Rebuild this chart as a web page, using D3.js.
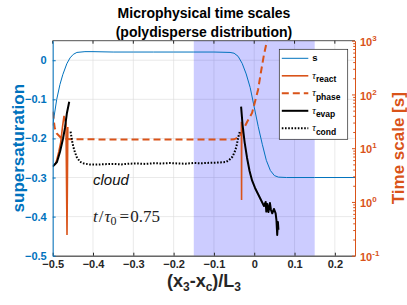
<!DOCTYPE html>
<html>
<head>
<meta charset="utf-8">
<script src="https://cdn.jsdelivr.net/npm/d3@7"></script>
<style>
  body { margin: 0; background: #fff; }
  svg { font-family: "Liberation Sans", Arial, sans-serif; }
</style>
</head>
<body>
<div class="canvas"></div>
<script>
// ---- data ----
const xTicks = [-0.5, -0.4, -0.3, -0.2, -0.1, 0, 0.1, 0.2];
const sTicks = [0, -0.1, -0.2, -0.3, -0.4, -0.5];
const tauTicks = [0.1, 1, 10, 100, 1000];
const tauExp = ['-1', '0', '1', '2', '3'];
const shadeRange = [-0.15, 0.15];

// supersaturation s (left axis)
const sX = [-0.5, -0.49, -0.482, -0.475, -0.465, -0.457, -0.449, -0.44, -0.42, -0.4, -0.35, -0.3, -0.25,
  -0.2, -0.15, -0.1, -0.06, -0.05, -0.04, -0.03, -0.02, -0.01, 0, 0.01, 0.02, 0.03, 0.04, 0.05, 0.06, 0.08, 0.15, 0.25];
const sVal = [-0.167, -0.10, -0.062, -0.037, -0.009, 0.006, 0.015, 0.020, 0.022, 0.022, 0.021, 0.021, 0.021,
  0.021, 0.021, 0.021, 0.020, 0.018, 0.010, -0.008, -0.035, -0.070, -0.120, -0.170, -0.215, -0.256, -0.282, -0.295, -0.299, -0.300, -0.300, -0.300];

// tau_react [s] (right axis), null = no value
const reactX = [-0.494, -0.49, -0.485, -0.48, -0.476, -0.472, -0.467, -0.4645, -0.4625, -0.45, -0.0318, -0.0314, -0.031];
const reactVal = [4.86, 6.03, 8.49, 13.0, 23.8, 39.8, 28.2, 0.243, 24.8, null, 31.1, 1.09, 31.1];

// tau_phase [s]
const phaseX = [-0.5, -0.495, -0.49, -0.48, -0.47, -0.45, -0.4, -0.3, -0.2, -0.1, -0.05, -0.0375, -0.0277,
  -0.0178, -0.0054, 0.0094, 0.0167, 0.024, 0.0316, 0.036];
const phaseVal = [47.8, 23.8, 18.9, 15.8, 14.8, 14.6, 14.6, 14.5, 14.5, 14.5, 14.6, 16.1, 21.8,
  30.7, 45.2, 121, 262, 542, 1000, 1585];

// tau_evap [s]
const evapX = [-0.5, -0.4894, -0.482, -0.4746, -0.4696, -0.4647, -0.459, -0.45,
  -0.0326, -0.0289, -0.0239, -0.0178, -0.0116, -0.0054, 0.002, 0.0094, 0.0168, 0.0217, 0.0242, 0.0284,
  0.0299, 0.0323, 0.0353, 0.039, 0.0415, 0.0447, 0.0489, 0.0531, 0.0551, 0.057, 0.0588, 0.06];
const evapVal = [4.53, 5.53, 8.51, 14.8, 23.8, 45.2, 73.3, null,
  59.2, 27.0, 13.0, 6.58, 3.77, 2.51, 1.82, 1.41, 1.09, 0.916, 0.839, 1.0,
  0.661, 0.916, 0.650, 0.955, 0.708, 0.614, 0.741, 0.614, 0.461, 0.243, 0.424, 0.302];

// tau_cond [s]
const condX = [-0.4556, -0.4523, -0.449, -0.445, -0.4407, -0.4326, -0.4227, -0.4079, -0.39, -0.37, -0.35,
  -0.33, -0.31, -0.29, -0.27, -0.25, -0.23, -0.21, -0.19, -0.17, -0.15, -0.13, -0.11, -0.09,
  -0.0704, -0.0622, -0.054, -0.0486, -0.0442, -0.0393, -0.0358];
const condVal = [20.3, 14.2, 10.7, 8.49, 6.95, 5.61, 5.19, 4.98, 4.95, 5.05, 5.1,
  5.0, 5.15, 5.2, 5.1, 5.25, 5.2, 5.3, 5.2, 5.15, 5.3, 5.25, 5.35, 5.4,
  5.53, 6.03, 6.95, 8.49, 10.7, 16.4, 20.3];

// ---- layout ----
const W = 407, H = 305;
const m = { left: 52.7, right: 355, top: 40.7, bottom: 255.7 };
const blue = '#0072BD', orange = '#D95319', dark = '#262626';

const svg = d3.select('.canvas')
  .append('svg')
  .attr('width', W)
  .attr('height', H);

const x = d3.scaleLinear().domain([-0.5, 0.25]).range([m.left, m.right]);
const yL = d3.scaleLinear().domain([-0.5, 0.05]).range([m.bottom, m.top]);
const yR = d3.scaleLog().domain([0.1, 1000]).range([m.bottom, m.top]);

svg.append('clipPath').attr('id', 'clip')
  .append('rect')
  .attr('x', m.left).attr('y', m.top)
  .attr('width', m.right - m.left).attr('height', m.bottom - m.top);

// grid
const grid = svg.append('g').attr('stroke', '#dcdcdc').attr('stroke-width', 0.6);
grid.selectAll('.gx').data(xTicks).enter().append('line')
  .attr('x1', d => x(d)).attr('x2', d => x(d))
  .attr('y1', m.top).attr('y2', m.bottom);
grid.selectAll('.gy').data(sTicks).enter().append('line')
  .attr('x1', m.left).attr('x2', m.right)
  .attr('y1', d => yL(d)).attr('y2', d => yL(d));

// shaded interval
svg.append('rect')
  .attr('x', x(shadeRange[0])).attr('y', m.top)
  .attr('width', x(shadeRange[1]) - x(shadeRange[0]))
  .attr('height', m.bottom - m.top)
  .attr('fill', '#0000ff').attr('fill-opacity', 0.2);

const plot = svg.append('g').attr('clip-path', 'url(#clip)');

const zip = (xs, vs) => xs.map((d, i) => ({ x: d, v: vs[i] }));
const lineL = d3.line().x(d => x(d.x)).y(d => yL(d.v));
const lineR = d3.line().defined(d => d.v != null).x(d => x(d.x)).y(d => yR(d.v));

plot.append('path').datum(zip(sX, sVal))
  .attr('d', lineL).attr('fill', 'none').attr('stroke', blue).attr('stroke-width', 1);

plot.append('path').datum(zip(reactX, reactVal))
  .attr('d', lineR).attr('fill', 'none').attr('stroke', orange).attr('stroke-width', 1.6);

plot.append('path').datum(zip(phaseX, phaseVal))
  .attr('d', lineR).attr('fill', 'none').attr('stroke', orange).attr('stroke-width', 2)
  .attr('stroke-dasharray', '7,4');

plot.append('path').datum(zip(evapX, evapVal))
  .attr('d', lineR).attr('fill', 'none').attr('stroke', '#000').attr('stroke-width', 2)
  .attr('stroke-linejoin', 'round');

plot.append('path').datum(zip(condX, condVal))
  .attr('d', lineR).attr('fill', 'none').attr('stroke', '#000').attr('stroke-width', 2)
  .attr('stroke-dasharray', '1.6,1.6');

// axes
const xAxis = svg.append('g')
  .attr('transform', `translate(0,${m.bottom})`)
  .call(d3.axisBottom(x).tickValues(xTicks).tickSizeInner(-3).tickSizeOuter(0).tickPadding(5)
    .tickFormat(d => d === 0 ? '0' : d3.format('.1f')(d)));
xAxis.select('.domain').attr('stroke', dark);
xAxis.selectAll('line').attr('stroke', dark);
xAxis.selectAll('text').attr('fill', dark).attr('font-size', 11).attr('font-weight', 'bold');

// top border
svg.append('line')
  .attr('x1', m.left).attr('x2', m.right).attr('y1', m.top).attr('y2', m.top)
  .attr('stroke', dark).attr('stroke-width', 0.8);
svg.selectAll('.tt').data(xTicks).enter().append('line')
  .attr('x1', d => x(d)).attr('x2', d => x(d)).attr('y1', m.top).attr('y2', m.top + 3)
  .attr('stroke', dark);

const leftAxis = svg.append('g')
  .attr('transform', `translate(${m.left},0)`)
  .call(d3.axisLeft(yL).tickValues(sTicks).tickSizeInner(-3).tickSizeOuter(0).tickPadding(6)
    .tickFormat(d => d === 0 ? '0' : d3.format('.1f')(d)));
leftAxis.select('.domain').attr('stroke', blue);
leftAxis.selectAll('line').attr('stroke', blue);
leftAxis.selectAll('text').attr('fill', blue).attr('font-size', 11).attr('font-weight', 'bold');

const minor = [];
tauTicks.slice(0, -1).forEach(t => { for (let k = 2; k < 10; k++) minor.push(t * k); });

const rightMinor = svg.append('g')
  .attr('transform', `translate(${m.right},0)`)
  .call(d3.axisRight(yR).tickValues(minor).tickSizeInner(-1.8).tickSizeOuter(0).tickFormat(''));
rightMinor.select('.domain').remove();
rightMinor.selectAll('line').attr('stroke', orange);

const rightAxis = svg.append('g')
  .attr('transform', `translate(${m.right},0)`)
  .call(d3.axisRight(yR).tickValues(tauTicks).tickSizeInner(-3).tickSizeOuter(0).tickFormat(''));
rightAxis.select('.domain').attr('stroke', orange);
rightAxis.selectAll('line').attr('stroke', orange);
rightAxis.selectAll('.tick').append('text')
  .attr('x', 5).attr('dy', '0.42em')
  .attr('fill', orange).attr('font-size', 11).attr('font-weight', 'bold')
  .attr('text-anchor', 'start')
  .each(function(d, i) {
    const t = d3.select(this);
    t.append('tspan').text('10');
    t.append('tspan').attr('dy', -5).attr('font-size', 8).text(tauExp[i]);
  });

// titles and labels
svg.append('text').attr('x', 204).attr('y', 17.5).attr('text-anchor', 'middle')
  .attr('font-size', 14).attr('font-weight', 'bold').text('Microphysical time scales');
svg.append('text').attr('x', 204).attr('y', 36.5).attr('text-anchor', 'middle')
  .attr('font-size', 14).attr('font-weight', 'bold').text('(polydisperse distribution)');

svg.append('text')
  .attr('transform', `translate(23.5,${(m.top + m.bottom) / 2}) rotate(-90)`)
  .attr('text-anchor', 'middle').attr('fill', blue)
  .attr('font-size', 17).attr('font-weight', 'bold').text('supersaturation');

svg.append('text')
  .attr('transform', `translate(403.5,${(m.top + m.bottom) / 2}) rotate(-90)`)
  .attr('text-anchor', 'middle').attr('fill', orange)
  .attr('font-size', 17).attr('font-weight', 'bold').text('Time scale [s]');

const xl = svg.append('text').attr('x', 204).attr('y', 287).attr('text-anchor', 'middle')
  .attr('font-size', 18).attr('font-weight', 'bold').attr('fill', dark);
xl.append('tspan').text('(x');
xl.append('tspan').attr('font-size', 12).attr('dy', 4).text('3');
xl.append('tspan').attr('dy', -4).text('-x');
xl.append('tspan').attr('font-size', 12).attr('dy', 4).text('c');
xl.append('tspan').attr('dy', -4).text(')/L');
xl.append('tspan').attr('font-size', 12).attr('dy', 4).text('3');

svg.append('text').attr('x', 93).attr('y', 184.5)
  .attr('font-size', 15).attr('font-style', 'italic').attr('fill', '#111').text('cloud');

const tt = svg.append('text').attr('x', 93).attr('y', 222)
  .attr('font-family', '"Liberation Serif", "DejaVu Serif", serif')
  .attr('font-size', 17).attr('fill', '#222');
tt.append('tspan').attr('font-style', 'italic').text('t');
tt.append('tspan').attr('dx', 1).text('/');
tt.append('tspan').attr('dx', 1).attr('font-style', 'italic').text('τ');
tt.append('tspan').attr('font-size', 12).attr('dy', 3).text('0');
tt.append('tspan').attr('dy', -3).attr('dx', 3).text('=');
tt.append('tspan').attr('dx', 1).text('0.75');

// legend
const legendItems = [
  { name: 's', sub: '', color: blue, width: 1, dash: null },
  { name: 'τ', sub: 'react', color: orange, width: 1.6, dash: null },
  { name: 'τ', sub: 'phase', color: orange, width: 2, dash: '7,4' },
  { name: 'τ', sub: 'evap', color: '#000', width: 2, dash: null },
  { name: 'τ', sub: 'cond', color: '#000', width: 2, dash: '1.6,1.6' }
];

const lg = svg.append('g').attr('transform', 'translate(279.3,49.3)');
lg.append('rect').attr('width', 68.4).attr('height', 90)
  .attr('fill', '#fff').attr('stroke', dark).attr('stroke-width', 0.7);

const li = lg.selectAll('.item').data(legendItems).enter().append('g')
  .attr('transform', (d, i) => `translate(0,${9 + i * 17.5})`);
li.append('line').attr('x1', 2.5).attr('x2', 29)
  .attr('stroke', d => d.color).attr('stroke-width', d => d.width)
  .attr('stroke-dasharray', d => d.dash);
li.append('text').attr('x', 33).attr('y', 3)
  .each(function(d) {
    const t = d3.select(this);
    if (d.sub === '') {
      t.attr('font-size', 9.5).attr('font-weight', 'bold').text(d.name);
    } else {
      t.append('tspan').attr('font-family', '"Liberation Serif", serif').attr('font-style', 'italic')
        .attr('font-size', 10).text(d.name);
      t.append('tspan').attr('font-size', 8.5).attr('font-weight', 'bold').attr('dy', 3.5).text(d.sub);
    }
  });
</script>
</body>
</html>
